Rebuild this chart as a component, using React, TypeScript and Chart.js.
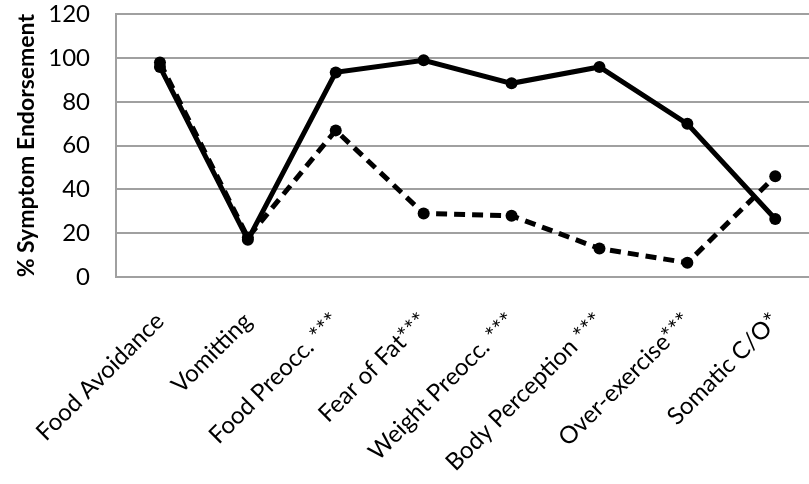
import React, { useEffect, useRef } from "react";
import { Chart, registerables } from "chart.js";

Chart.register(...registerables);

const categories = [
  "Food Avoidance",
  "Vomitting",
  "Food Preocc. ***",
  "Fear of Fat***",
  "Weight Preocc. ***",
  "Body Perception ***",
  "Over-exercise***",
  "Somatic C/O*",
];
const solidSeries = [96, 17, 93.5, 99, 88.5, 96, 70, 26.5];
const dashedSeries = [98, 18, 67, 29, 28, 13, 6.5, 46];
const yTicks = [0, 20, 40, 60, 80, 100, 120];
const yTitle = "% Symptom Endorsement";

export default function App() {
  const ref = useRef<HTMLCanvasElement | null>(null);
  useEffect(() => {
    if (!ref.current) return;
    const grey = "#a0a0a0";
    const chart = new Chart(ref.current, {
      type: "line",
      data: {
        labels: categories,
        datasets: [
          {
            label: "A",
            data: dashedSeries,
            borderColor: "#000",
            backgroundColor: "#000",
            borderWidth: 5,
            borderDash: [11, 7],
            pointRadius: 6,
            pointBorderWidth: 0,
            tension: 0,
          },
          {
            label: "B",
            data: solidSeries,
            borderColor: "#000",
            backgroundColor: "#000",
            borderWidth: 5,
            pointRadius: 6,
            pointBorderWidth: 0,
            tension: 0,
          },
        ],
      },
      options: {
        responsive: false,
        animation: false,
        layout: { padding: { top: 14, right: 0, left: 0, bottom: 0 } },
        plugins: { legend: { display: false }, tooltip: { enabled: false } },
        scales: {
          x: {
            offset: true,
            grid: { display: false, drawTicks: false },
            border: { display: false },
            ticks: {
              maxRotation: 45,
              minRotation: 45,
              autoSkip: false,
              padding: 30,
              color: "#000",
              font: { family: "Lato", size: 24 },
            },
            afterFit: (s: any) => {
              s.height = 484 - 277;
            },
          },
          y: {
            min: 0,
            max: 120,
            afterBuildTicks: (s: any) => {
              s.ticks = yTicks.map((v) => ({ value: v }));
            },
            grid: {
              color: grey,
              lineWidth: 2,
              drawTicks: true,
              tickLength: 26,
              tickColor: "rgba(0,0,0,0)",
            },
            border: { display: true, color: grey, width: 2 },
            ticks: {
              padding: 0,
              color: "#000",
              font: { family: "Lato", size: 24 },
            },
            title: {
              display: true,
              text: yTitle,
              color: "#000",
              font: { family: "Lato", size: 23, weight: "bold" },
              padding: { top: 13, bottom: 0 },
            },
            afterFit: (s: any) => {
              s.width = 116;
            },
          },
        },
      },
    });
    return () => chart.destroy();
  }, []);
  return (
    <div
      style={{
        position: "absolute",
        left: 0,
        top: 0,
        width: 809,
        height: 484,
        overflow: "hidden",
        background: "#fff",
      }}
    >
      <canvas ref={ref} width={826} height={484} style={{ display: "block" }} />
    </div>
  );
}
